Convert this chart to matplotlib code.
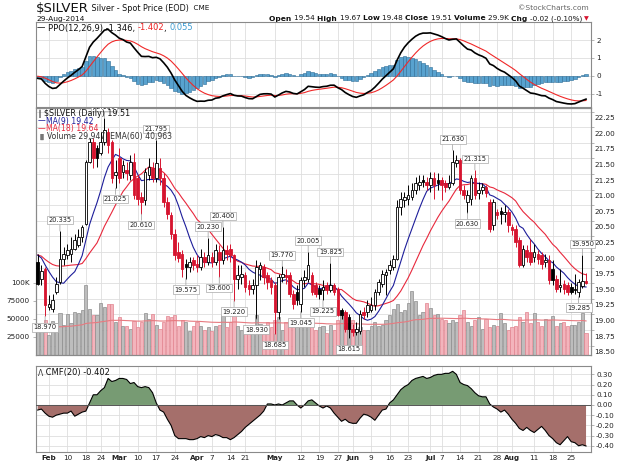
import numpy as np
import pandas as pd
import matplotlib
matplotlib.use("Agg")
import matplotlib.pyplot as plt
from matplotlib.patches import Rectangle
from matplotlib.transforms import blended_transform_factory, offset_copy

plt.rcParams['font.family'] = ['DejaVu Sans']

# ---------------- data ----------------
holidays = pd.to_datetime(['2014-02-17', '2014-04-18', '2014-05-26', '2014-07-04'])
dates = pd.bdate_range('2014-01-29', '2014-08-29')
dates = dates[~dates.isin(holidays)]

prior_closes = [20.05, 20.10, 19.95, 19.90, 19.85, 20.00, 19.95, 19.90, 19.92,
                20.10, 20.15, 20.10, 20.05, 20.15, 20.05, 20.04, 19.42]
ema12_seed, ema26_seed, signal_seed = 19.86, 19.86, 0.0

opens = [
    19.84, 19.57, 19.73, 19.12, 19.09, 19.36, 19.52, 19.89, 19.95, 19.97,
    20.05, 20.11, 20.24, 20.45, 21.44, 21.76, 21.66, 21.58, 21.76, 21.92,
    21.76, 21.23, 21.50, 21.28, 21.31, 21.23, 21.44, 21.18, 20.88, 20.83,
    21.23, 21.34, 21.18, 21.34, 21.18, 20.80, 20.59, 20.29, 20.00, 19.97,
    19.81, 19.76, 19.87, 19.81, 19.76, 19.92, 19.84, 19.92, 19.84, 20.00,
    19.87, 20.03, 20.05, 19.95, 19.57, 19.60, 19.63, 19.47, 19.41, 19.47,
    19.73, 19.76, 19.63, 19.55, 19.47, 19.04, 19.60, 19.63, 19.63, 19.33,
    19.36, 19.17, 19.55, 19.57, 19.63, 19.47, 19.41, 19.39, 19.47, 19.39,
    19.47, 19.41, 19.07, 19.04, 18.96, 18.77, 18.72, 18.74, 19.04, 19.04,
    19.07, 19.15, 19.36, 19.49, 19.63, 19.71, 19.76, 19.89, 20.72, 20.83,
    20.85, 20.88, 20.99, 21.07, 21.15, 21.12, 21.07, 21.18, 21.15, 21.15,
    21.10, 21.04, 21.10, 21.42, 21.47, 20.99, 20.80, 20.85, 21.18, 20.94,
    20.99, 21.04, 20.80, 20.43, 20.64, 20.66, 20.61, 20.64, 20.40, 20.37,
    20.19, 19.79, 20.03, 20.00, 19.92, 19.97, 19.95, 19.84, 19.87, 19.73,
    19.57, 19.44, 19.49, 19.47, 19.44, 19.41, 19.36, 19.46, 19.54]

highs = [
    19.97, 19.79, 19.76, 19.31, 19.33, 19.60, 20.335, 20.08, 20.13, 20.24,
    20.29, 20.37, 20.43, 21.47, 21.82, 21.82, 21.71, 21.92, 22.15, 21.98,
    21.80, 21.47, 21.66, 21.47, 21.44, 21.55, 21.58, 21.23, 20.96, 21.34,
    21.50, 21.44, 21.795, 21.50, 21.26, 20.88, 20.64, 20.37, 20.16, 20.03,
    19.89, 19.92, 19.92, 19.95, 20.05, 20.00, 20.23, 20.00, 20.13, 20.11,
    20.40, 20.11, 20.13, 19.97, 19.79, 19.79, 19.68, 19.55, 19.57, 19.87,
    19.84, 19.81, 19.68, 19.60, 19.52, 19.65, 19.77, 19.73, 19.68, 19.39,
    19.47, 19.60, 19.71, 20.005, 19.68, 19.52, 19.47, 19.55, 19.52, 19.825,
    19.50, 19.44, 19.10, 19.07, 19.01, 18.85, 18.88, 19.07, 19.12, 19.23,
    19.28, 19.41, 19.57, 19.71, 19.73, 19.87, 19.95, 20.83, 20.96, 20.96,
    21.07, 21.10, 21.20, 21.23, 21.23, 21.20, 21.28, 21.28, 21.26, 21.20,
    21.15, 21.23, 21.63, 21.55, 21.50, 21.07, 20.99, 21.23, 21.315, 21.12,
    21.10, 21.07, 20.85, 20.85, 20.69, 20.72, 20.75, 20.69, 20.45, 20.43,
    20.24, 20.11, 20.11, 20.21, 20.13, 20.03, 20.00, 19.97, 19.95, 19.87,
    19.63, 19.73, 19.55, 19.52, 19.50, 19.65, 19.57, 19.95, 19.67]

lows = [
    19.47, 19.47, 18.97, 19.07, 19.04, 19.33, 19.49, 19.79, 19.89, 19.84,
    20.03, 20.08, 20.16, 20.43, 21.42, 21.34, 21.36, 21.55, 21.71, 21.58,
    21.10, 21.025, 21.10, 21.18, 21.15, 21.15, 20.85, 20.75, 20.61, 20.75,
    21.15, 21.12, 21.12, 21.07, 20.72, 20.53, 20.21, 19.87, 19.84, 19.60,
    19.575, 19.68, 19.71, 19.68, 19.71, 19.76, 19.79, 19.76, 19.79, 19.60,
    19.81, 19.87, 19.84, 19.22, 19.41, 19.49, 19.36, 19.31, 19.33, 18.93,
    19.55, 19.49, 19.41, 19.33, 18.685, 18.93, 19.52, 19.49, 19.28, 19.09,
    19.15, 19.045, 19.44, 19.52, 19.31, 19.28, 19.25, 19.225, 19.33, 19.36,
    19.31, 18.97, 18.93, 18.72, 18.615, 18.66, 18.67, 18.69, 18.93, 18.96,
    19.04, 19.07, 19.31, 19.44, 19.31, 19.65, 19.71, 19.87, 20.59, 20.72,
    20.75, 20.83, 20.93, 20.99, 21.04, 20.99, 20.96, 20.85, 20.99, 20.83,
    20.96, 21.01, 21.07, 21.36, 20.93, 20.85, 20.63, 20.75, 20.85, 20.85,
    20.93, 20.88, 20.32, 20.35, 20.53, 20.45, 20.48, 20.32, 20.27, 20.08,
    19.76, 19.76, 19.84, 19.79, 19.84, 19.81, 19.73, 19.76, 19.49, 19.47,
    19.36, 19.36, 19.33, 19.31, 19.33, 19.33, 19.285, 19.42, 19.48]

closes = [
    19.49, 19.69, 19.15, 19.17, 19.23, 19.49, 19.89, 19.97, 20.03, 20.05,
    20.19, 20.24, 20.40, 21.44, 21.76, 21.50, 21.50, 21.76, 21.95, 21.71,
    21.18, 21.28, 21.18, 21.39, 21.26, 21.44, 20.91, 20.85, 20.80, 21.28,
    21.36, 21.18, 21.42, 21.18, 20.80, 20.61, 20.29, 19.95, 19.90, 19.73,
    19.76, 19.84, 19.79, 19.76, 19.92, 19.84, 19.95, 19.84, 20.03, 19.87,
    20.03, 19.97, 19.95, 19.57, 19.63, 19.65, 19.44, 19.41, 19.47, 19.76,
    19.79, 19.60, 19.52, 19.44, 19.04, 19.60, 19.65, 19.60, 19.33, 19.17,
    19.23, 19.55, 19.60, 19.79, 19.36, 19.33, 19.33, 19.44, 19.39, 19.47,
    19.36, 18.99, 18.99, 18.77, 18.77, 18.72, 18.77, 19.01, 18.99, 19.15,
    19.15, 19.36, 19.52, 19.65, 19.68, 19.79, 19.89, 20.72, 20.85, 20.88,
    20.91, 20.99, 21.10, 21.12, 21.12, 21.07, 21.18, 21.07, 21.10, 21.07,
    21.04, 21.10, 21.44, 21.47, 20.99, 20.91, 20.91, 21.18, 20.91, 20.99,
    21.04, 20.94, 20.37, 20.80, 20.59, 20.61, 20.64, 20.43, 20.35, 20.16,
    19.79, 20.05, 19.92, 19.84, 20.00, 19.89, 19.81, 19.87, 19.55, 19.55,
    19.41, 19.47, 19.41, 19.36, 19.36, 19.39, 19.52, 19.53, 19.51]

volumes = [
    34, 36, 48, 28, 47, 44, 58, 42, 56, 44,
    60, 58, 62, 96, 63, 55, 55, 72, 66, 70,
    70, 45, 52, 40, 40, 36, 47, 38, 45, 58,
    50, 56, 42, 36, 45, 54, 52, 55, 40, 48,
    45, 33, 40, 45, 40, 35, 38, 33, 40, 42,
    55, 38, 46, 60, 40, 35, 30, 40, 38, 55,
    43, 40, 45, 38, 48, 52, 35, 45, 40, 45,
    38, 48, 40, 50, 42, 35, 38, 40, 30, 42,
    35, 48, 55, 40, 44, 48, 36, 38, 35, 34,
    40, 45, 40, 42, 48, 55, 64, 70, 60, 62,
    72, 88, 75, 55, 60, 72, 65, 55, 56, 50,
    48, 44, 48, 45, 55, 62, 45, 40, 48, 52,
    36, 50, 38, 42, 40, 58, 44, 35, 38, 40,
    52, 45, 60, 44, 58, 46, 40, 50, 48, 54,
    40, 44, 46, 40, 42, 42, 45, 58, 29.947]
volumes = [vv * 1000 for vv in volumes]
vol_ema_seed = 38000

cmf = [
    -0.05, -0.04, -0.08, -0.11, -0.12, -0.10, -0.09, -0.08, -0.08, -0.06,
    -0.11, -0.09, -0.07, -0.06, 0.02, 0.10, 0.10, 0.14, 0.17, 0.26,
    0.23, 0.24, 0.26, 0.26, 0.25, 0.21, 0.22, 0.18, 0.17, 0.18,
    0.17, 0.12, 0.02, -0.05, -0.07, -0.14, -0.20, -0.30, -0.33, -0.33,
    -0.33, -0.34, -0.34, -0.33, -0.31, -0.32, -0.30, -0.31, -0.29, -0.30,
    -0.32, -0.32, -0.34, -0.32, -0.29, -0.26, -0.22, -0.19, -0.16, -0.13,
    -0.10, -0.06, 0.01, 0.01, 0.00, 0.01, 0.00, 0.02, 0.04, 0.04,
    0.00, -0.03, 0.00, 0.04, 0.05, 0.02, -0.01, -0.03, -0.01, -0.03,
    -0.08, -0.12, -0.16, -0.14, -0.17, -0.18, -0.18, -0.13, -0.09, -0.10,
    -0.12, -0.15, -0.10, -0.05, -0.04, 0.02, 0.05, 0.10, 0.15, 0.18,
    0.20, 0.24, 0.26, 0.27, 0.28, 0.26, 0.27, 0.29, 0.30, 0.30,
    0.31, 0.31, 0.33, 0.30, 0.22, 0.20, 0.19, 0.16, 0.12, 0.09,
    0.08, 0.08, 0.01, -0.02, -0.04, -0.07, -0.05, -0.09, -0.14, -0.18,
    -0.23, -0.25, -0.22, -0.25, -0.27, -0.24, -0.21, -0.25, -0.30, -0.33,
    -0.37, -0.39, -0.35, -0.31, -0.36, -0.37, -0.40, -0.39, -0.402]

high_label_idx = [6, 18, 32, 46, 50, 66, 73, 79, 112, 118, 147]
low_label_idx = [2, 21, 28, 40, 49, 53, 59, 64, 71, 77, 84, 116, 146]

tick_dates = ['2014-02-03', '2014-02-10', '2014-02-18', '2014-02-24', '2014-03-03', '2014-03-10',
              '2014-03-17', '2014-03-24', '2014-04-01', '2014-04-07', '2014-04-14', '2014-04-21',
              '2014-05-01', '2014-05-12', '2014-05-19', '2014-05-27', '2014-06-02', '2014-06-09',
              '2014-06-16', '2014-06-23', '2014-07-01', '2014-07-07', '2014-07-14', '2014-07-21',
              '2014-07-28', '2014-08-01', '2014-08-11', '2014-08-18', '2014-08-25']
tick_labels = ['Feb', '10', '18', '24', 'Mar', '10', '17', '24', 'Apr', '7', '14', '21',
               'May', '12', '19', '27', 'Jun', '9', '16', '23', 'Jul', '7', '14', '21', '28',
               'Aug', '11', '18', '25']

price_ticks = [18.50, 18.75, 19.00, 19.25, 19.50, 19.75, 20.00, 20.25, 20.50, 20.75,
               21.00, 21.25, 21.50, 21.75, 22.00, 22.25]
vol_ticks = [25000, 50000, 75000, 100000]
vol_tick_labels = ['25000', '50000', '75000', '100K']
ppo_ticks = [-1, 0, 1, 2]
cmf_ticks = [-0.40, -0.30, -0.20, -0.10, 0.00, 0.10, 0.20, 0.30]

header_vals = dict(open='19.54', high='19.67', low='19.48', close='19.51', volume='29.9K',
                   chg='-0.02 (-0.10%)')
ppo_legend = ('PPO(12,26,9) -1.346, ', '-1.402', ', ', '0.055')
price_legend = '$SILVER (Daily) 19.51'
ma9_legend = 'MA(9) 19.42'
ma18_legend = 'MA(18) 19.64'
vol_legend = 'Volume 29,947, EMA(60) 40,963'
cmf_legend = 'CMF(20) -0.402'

# ---------------- derived indicators ----------------
n = len(closes)
o = np.array(opens); h = np.array(highs); l = np.array(lows); c = np.array(closes)
v = np.array(volumes, dtype=float)
ext = np.array(prior_closes + closes)


def ema(xs, span, seed):
    a = 2.0 / (span + 1)
    out = np.empty(len(xs))
    e = seed
    for i, val in enumerate(xs):
        e = e + a * (val - e)
        out[i] = e
    return out


e12 = ema(c, 12, ema12_seed)
e26 = ema(c, 26, ema26_seed)
ppo = (e12 - e26) / e26 * 100
sig = ema(ppo, 9, signal_seed)
hist = ppo - sig
ma9 = pd.Series(ext).rolling(9).mean().values[-n:]
ma18 = pd.Series(ext).rolling(18).mean().values[-n:]
vol_ema = ema(v, 60, vol_ema_seed)

x = np.arange(n)
prev = np.concatenate([[prior_closes[-1]], c[:-1]])
is_up = c >= prev
RED = '#d6142f'

# ---------------- figure ----------------
W, H = 625, 465
fig = plt.figure(figsize=(W / 100, H / 100), dpi=100)


def fx(px):
    return px / W


def fy(py):
    return 1 - py / H


def axes_px(left, top, right, bottom):
    return fig.add_axes([fx(left), fy(bottom), (right - left) / W, (bottom - top) / H])


L, R = 35.5, 590.5
XL = ((L - 37.7) / 3.705, (R - 37.7) / 3.705)

ax_ppo = axes_px(L, 22, R, 107)
axv = axes_px(L, 108, R, 355)
ax = axv.twinx()
ax_cmf = axes_px(L, 366, R, 452)
ax.set_zorder(axv.get_zorder() + 1)
ax.patch.set_visible(False)

tick_idx = [int(np.where(dates == pd.Timestamp(d))[0][0]) for d in tick_dates]
GRID = '#dedede'
SPINE = '#8a8a8a'

for a in (ax_ppo, axv, ax, ax_cmf):
    a.set_xlim(*XL)
    for s in a.spines.values():
        s.set_color(SPINE)
        s.set_linewidth(0.8)
    a.tick_params(axis='both', labelsize=5.2, length=2, width=0.5, color='#999999',
                  labelcolor='#222222', pad=2)

for a in (ax_ppo, axv, ax_cmf):
    for t in tick_idx:
        a.axvline(t, color=GRID, lw=0.6, zorder=0)

# ---------- PPO panel ----------
ax_ppo.set_ylim(-1.758, 3.017)
for yv in ppo_ticks:
    ax_ppo.axhline(yv, color=GRID, lw=0.6, zorder=0)
ax_ppo.bar(x, hist, width=0.95, color='#58a2cf', edgecolor='#2d6c96', linewidth=0.4, zorder=2)
ax_ppo.plot(x, sig, color='#f02828', lw=0.8, zorder=3)
ax_ppo.plot(x, ppo, color='black', lw=1.2, zorder=4)
ax_ppo.yaxis.tick_right()
ax_ppo.set_yticks(ppo_ticks)
ax_ppo.set_yticklabels([str(t) for t in ppo_ticks])
ax_ppo.set_xticks([])

# ---------- main panel ----------
P_TOP, P_BOT = 22.308, 18.350
ax.set_ylim(P_BOT, P_TOP)
axv.set_ylim(0, 340700)
for p in price_ticks:
    axv.plot(XL, [p, p], color=GRID, lw=0.6, transform=ax.transData, zorder=0)

vcol = ['#bdbdbd' if u else '#f3b4bc' for u in is_up]
vedge = ['#8d8d8d' if u else '#e2848f' for u in is_up]
axv.bar(x, v, width=0.85, color=vcol, edgecolor=vedge, linewidth=0.5, zorder=2)
axv.plot(x, vol_ema, color='#e77a80', lw=0.8, zorder=3)
axv.yaxis.tick_left()
axv.set_yticks(vol_ticks)
axv.set_yticklabels(vol_tick_labels)

ax.plot(x, ma18, color='#e8283c', lw=0.8, zorder=2)
ax.plot(x, ma9, color='#1d1d9a', lw=0.8, zorder=2)
bw = 0.7
for i in range(n):
    col = 'black' if is_up[i] else RED
    ax.plot([i, i], [l[i], h[i]], color=col, lw=0.7, zorder=3, solid_capstyle='butt')
    lo, hi = min(o[i], c[i]), max(o[i], c[i])
    if hi - lo < 0.01:
        hi = lo + 0.01
    fc = 'white' if c[i] > o[i] else col
    ax.add_patch(Rectangle((i - bw / 2, lo), bw, hi - lo, facecolor=fc, edgecolor=col,
                           linewidth=0.6, zorder=4))

# price labels on the right, printed just below their grid level as in the source
ax.yaxis.tick_right()
ax.set_yticks(price_ticks)
ax.set_yticklabels([])
lab_tr = offset_copy(blended_transform_factory(ax.transAxes, ax.transData), fig=fig,
                     x=4, y=-6.5, units='dots')
for p in price_ticks:
    ax.text(1.0, p, '%.2f' % p, transform=lab_tr, fontsize=5.2, color='#222222',
            ha='left', va='center', clip_on=False)

axv.set_xticks(tick_idx)
axv.set_xticklabels(tick_labels)
ax.set_xticks([])
axv.tick_params(axis='x', length=0, pad=2)
for lab, txt in zip(axv.get_xticklabels(), tick_labels):
    if not txt.isdigit():
        lab.set_fontweight('bold')

box = dict(boxstyle='square,pad=0.2', fc='white', ec='#a8a8a8', lw=0.5)
arr = dict(arrowstyle='-', color='#9a9a9a', lw=0.5, shrinkA=0, shrinkB=0)
for i in high_label_idx:
    ax.annotate('%.3f' % h[i], xy=(i, h[i]), xytext=(0, 8), textcoords='offset pixels',
                ha='center', va='bottom', fontsize=4.8, color='#222222', bbox=box,
                arrowprops=arr, zorder=6, clip_on=bool(h[i] > 22.0))
for i in low_label_idx:
    ax.annotate('%.3f' % l[i], xy=(i, l[i]), xytext=(0, -8), textcoords='offset pixels',
                ha='center', va='top', fontsize=4.8, color='#222222', bbox=box,
                arrowprops=arr, zorder=6)

# ---------- CMF panel ----------
ax_cmf.set_ylim(-0.461, 0.382)
for yv in cmf_ticks:
    ax_cmf.axhline(yv, color=GRID, lw=0.6, zorder=0)
cm = np.array(cmf)
ax_cmf.fill_between(x, cm, 0, where=cm >= 0, interpolate=True, color='#779b73', lw=0, zorder=2)
ax_cmf.fill_between(x, cm, 0, where=cm <= 0, interpolate=True, color='#a56f6b', lw=0, zorder=2)
ax_cmf.plot(x, cm, color='black', lw=0.8, zorder=3)
ax_cmf.axhline(0, color='#555555', lw=0.7, zorder=3)
ax_cmf.yaxis.tick_right()
ax_cmf.set_yticks(cmf_ticks)
ax_cmf.set_yticklabels(['%.2f' % t for t in cmf_ticks])
ax_cmf.set_xticks(tick_idx)
ax_cmf.set_xticklabels(tick_labels)
ax_cmf.tick_params(axis='x', length=0, pad=2)
for lab, txt in zip(ax_cmf.get_xticklabels(), tick_labels):
    if not txt.isdigit():
        lab.set_fontweight('bold')

# ---------- texts ----------
renderer = fig.canvas.get_renderer()


def seg_text(xp, yp, segs, ha='left', size=6):
    texts = []
    for s, kw in segs:
        t = fig.text(0, fy(yp), s, fontsize=kw.get('size', size), color=kw.get('color', '#111111'),
                     fontweight=kw.get('weight', 'normal'), va='center', ha='left', zorder=10)
        texts.append(t)
    widths = [t.get_window_extent(renderer).width for t in texts]
    cur = xp if ha == 'left' else xp - sum(widths)
    for t, wd in zip(texts, widths):
        t.set_x(fx(cur))
        cur += wd


seg_text(36, 8.5, [('$SILVER', dict(size=9.5)), (' Silver - Spot Price (EOD)', dict(size=5.8)),
                   ('  CME', dict(size=5.2))])
fig.text(fx(589), fy(8), '\u00a9StockCharts.com', fontsize=5.4, color='#666666', ha='right', va='center')
fig.text(fx(36), fy(19), '29-Aug-2014', fontsize=5.4, color='#111111', ha='left', va='center')
B = dict(weight='bold', size=5.4)
N = dict(size=5.2)
seg_text(589, 18.5, [('Open ', B), (header_vals['open'] + ' ', N), ('High ', B),
                     (header_vals['high'] + ' ', N), ('Low ', B), (header_vals['low'] + ' ', N),
                     ('Close ', B), (header_vals['close'] + ' ', N), ('Volume ', B),
                     (header_vals['volume'] + ' ', N), ('Chg ', B), (header_vals['chg'], N),
                     (' \u25bc', dict(size=4.5, color=RED))], ha='right')

seg_text(37, 28, [('\u2014 ', dict(size=6)), (ppo_legend[0], dict(size=6)),
                  (ppo_legend[1], dict(size=6, color='#ee2222')), (ppo_legend[2], dict(size=6)),
                  (ppo_legend[3], dict(size=6, color='#3b9ad0'))])

seg_text(38, 113.5, [('\u2551 ', dict(size=5, color='#333333')), (price_legend, dict(size=5.8))])
seg_text(38, 121, [('\u2014', dict(size=5.6, color='#1d1d9a')), (ma9_legend, dict(size=5.6, color='#1d1d9a'))])
seg_text(38, 128.5, [('\u2014', dict(size=5.6, color='#e8283c')), (ma18_legend, dict(size=5.6, color='#e8283c'))])
seg_text(38, 136.5, [('\u2590\u258c', dict(size=4.2, color='#777777')), (vol_legend, dict(size=5.6, color='#333333'))])

seg_text(38, 373, [('\u039b', dict(size=5.5, color='#333333')), (' ' + cmf_legend, dict(size=6))])

fig.savefig('out.png', dpi=100)
